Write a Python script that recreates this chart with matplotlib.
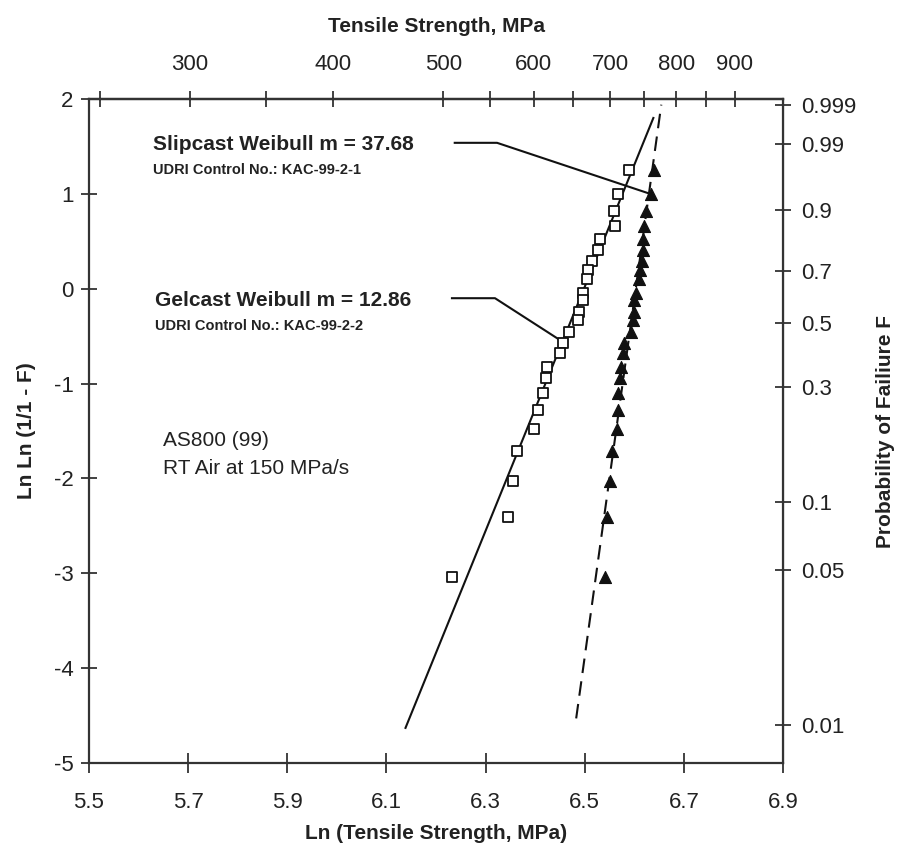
import numpy as np
import matplotlib
matplotlib.use("Agg")
import matplotlib.pyplot as plt
from matplotlib.ticker import FixedLocator, NullFormatter

plt.rcParams['font.family'] = ['Liberation Sans', 'DejaVu Sans']

# ---- data ----
lnln_levels = [1.251, 0.998, 0.819, 0.661, 0.524, 0.408, 0.292, 0.198, 0.102,
               -0.046, -0.119, -0.246, -0.330, -0.457, -0.573, -0.678, -0.826,
               -0.942, -1.100, -1.279, -1.479, -1.711, -2.027, -2.407, -3.040]
gelcast_ln = [6.5889, 6.5667, 6.5586, 6.5606, 6.5303, 6.5263, 6.5141, 6.5061,
              6.5040, 6.4960, 6.4960, 6.4879, 6.4859, 6.4677, 6.4556, 6.4495,
              6.4232, 6.4212, 6.4152, 6.4051, 6.3970, 6.3626, 6.3545, 6.3444,
              6.2313]
slipcast_ln = [6.6394, 6.6333, 6.6232, 6.6192, 6.6172, 6.6172, 6.6152, 6.6111,
               6.6091, 6.6030, 6.5990, 6.5990, 6.5970, 6.5929, 6.5788, 6.5768,
               6.5727, 6.5707, 6.5667, 6.5667, 6.5646, 6.5545, 6.5505, 6.5444,
               6.5404]

gel_m, gel_x0 = 12.86, 6.4985
slip_m, slip_x0 = 37.68, 6.603
gel_line_y = [-4.63, 1.80]
slip_line_y = [-4.53, 1.94]

x_ticks = [5.5, 5.7, 5.9, 6.1, 6.3, 6.5, 6.7, 6.9]
y_ticks = [2, 1, 0, -1, -2, -3, -4, -5]
top_major = [300, 400, 500, 600, 700, 800, 900]
top_minor = [250, 350, 550, 650, 750, 850]
prob_labels = ['0.999', '0.99', '0.9', '0.7', '0.5', '0.3', '0.1', '0.05', '0.01']
prob_values = [0.999, 0.99, 0.9, 0.7, 0.5, 0.3, 0.1, 0.05, 0.01]

# ---- figure ----
W, H = 906, 857
fig = plt.figure(figsize=(W / 100, H / 100), dpi=100)
L, R, T, B = 89, 783, 99, 763
ax = fig.add_axes([L / W, 1 - B / H, (R - L) / W, (B - T) / H])

txt_color = '#222222'
tick_fs = 16

# fit lines
gy = np.array(gel_line_y)
ax.plot(gel_x0 + gy / gel_m, gy, color='#111111', lw=1.5, zorder=2)
sy = np.array(slip_line_y)
ax.plot(slip_x0 + sy / slip_m, sy, color='#111111', lw=1.5,
        dashes=(7, 4), zorder=2)

# data
ax.scatter(gelcast_ln, lnln_levels, marker='s', s=62, facecolor='white',
           edgecolor='#111111', linewidths=1.3, zorder=3)
ax.scatter(slipcast_ln, lnln_levels, marker='^', s=75, facecolor='#111111',
           edgecolor='#111111', linewidths=0.8, zorder=3)

ax.set_xlim(5.5, 6.9)
ax.set_ylim(-5, 2)
ax.set_xticks(x_ticks)
ax.set_xticklabels([f'{v:.1f}' for v in x_ticks])
ax.set_yticks(y_ticks)
ax.set_yticklabels([str(v) for v in y_ticks])

for sp in ax.spines.values():
    sp.set_linewidth(1.6)
    sp.set_color('#333333')

ax.tick_params(axis='x', direction='inout', length=14, width=1.3,
               labelsize=tick_fs, pad=14, colors='#333333', labelcolor=txt_color)
ax.tick_params(axis='y', direction='inout', length=12, width=1.3,
               labelsize=tick_fs, pad=5, colors='#333333', labelcolor=txt_color)

ax.set_xlabel('Ln (Tensile Strength, MPa)', fontsize=15, fontweight='bold',
              color=txt_color, labelpad=8)
ax.set_ylabel('Ln Ln (1/1 - F)', fontsize=15, fontweight='bold',
              color=txt_color, labelpad=13)

# top axis (MPa)
top = ax.secondary_xaxis('top', functions=(np.exp, np.log))
top.set_xticks(top_major)
top.set_xticklabels([str(v) for v in top_major])
top.xaxis.set_minor_locator(FixedLocator(top_minor))
top.xaxis.set_minor_formatter(NullFormatter())
top.tick_params(axis='x', which='both', direction='inout', length=12, width=1.3,
                labelsize=tick_fs, pad=11, colors='#333333', labelcolor=txt_color)
top.spines['top'].set_linewidth(1.6)
top.set_xlabel('Tensile Strength, MPa', fontsize=15, fontweight='bold',
               color=txt_color, labelpad=16)

# right axis (probability)
right = ax.secondary_yaxis('right')
right.set_yticks([np.log(-np.log(1 - p)) for p in prob_values])
right.set_yticklabels(prob_labels)
right.tick_params(axis='y', direction='inout', length=12, width=1.3,
                  labelsize=tick_fs, pad=7, colors='#333333', labelcolor=txt_color)
right.set_ylabel('Probability of Failiure F', fontsize=15, fontweight='bold',
                 color=txt_color, labelpad=14)

# annotations
ax.text(0.092, 0.932, 'Slipcast Weibull m = 37.68', transform=ax.transAxes,
        fontsize=15, fontweight='bold', color=txt_color, va='center', ha='left')
ax.text(0.092, 0.893, 'UDRI Control No.: KAC-99-2-1', transform=ax.transAxes,
        fontsize=10.5, fontweight='bold', color=txt_color, va='center', ha='left')
ax.text(0.095, 0.697, 'Gelcast Weibull m = 12.86', transform=ax.transAxes,
        fontsize=15, fontweight='bold', color=txt_color, va='center', ha='left')
ax.text(0.095, 0.658, 'UDRI Control No.: KAC-99-2-2', transform=ax.transAxes,
        fontsize=10.5, fontweight='bold', color=txt_color, va='center', ha='left')

ax.text(0.107, 0.486, 'AS800 (99)', transform=ax.transAxes,
        fontsize=15, color=txt_color, va='center', ha='left')
ax.text(0.107, 0.443, 'RT Air at 150 MPa/s', transform=ax.transAxes,
        fontsize=15, color=txt_color, va='center', ha='left')

# leader lines: start/elbow in axes fraction, end at a data point
def leader(start, elbow, end_data):
    disp_s = ax.transAxes.transform(start)
    disp_e = ax.transAxes.transform(elbow)
    disp_d = ax.transData.transform(end_data)
    pts = ax.transData.inverted().transform(np.array([disp_s, disp_e, disp_d]))
    ax.plot(pts[:, 0], pts[:, 1], color='#111111', lw=1.5, zorder=2.5,
            clip_on=False)

leader((0.527, 0.934), (0.588, 0.934), (slipcast_ln[1], lnln_levels[1]))
leader((0.523, 0.700), (0.585, 0.700), (gelcast_ln[14] - 0.008, lnln_levels[14] + 0.04))

fig.savefig('out.png', dpi=100)
